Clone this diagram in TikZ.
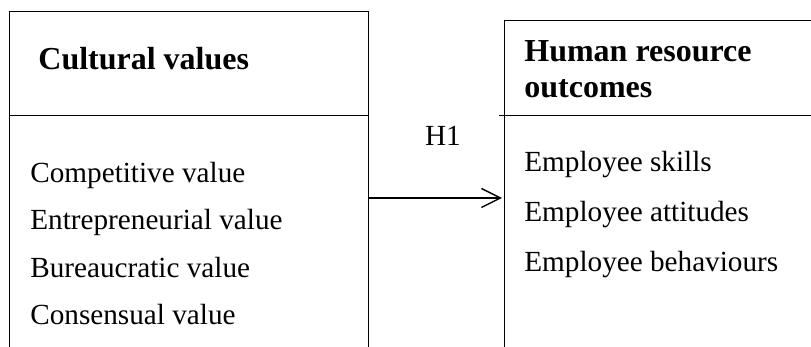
\documentclass[tikz,border=0pt]{standalone}
\usepackage{fontspec}
\setmainfont{Liberation Serif}
\usetikzlibrary{positioning,arrows.meta}

\tikzset{
  frame/.style={line width=0.5pt},
  head/.style={anchor=base west, inner sep=0pt, font=\fontsize{16}{18}\selectfont\bfseries},
  item/.style={anchor=base west, inner sep=0pt, font=\fontsize{14.6}{18}\selectfont},
  link/.style={line width=0.7pt, -{Straight Barb[length=9.5pt,width=9.5pt,line width=0.7pt]}}
}

\begin{document}
\begin{tikzpicture}[x=0.5pt,y=-0.5pt]
  \useasboundingbox (0,0) rectangle (811,347);

  % left box: cultural values
  \draw[frame] (10,347) -- (10,12) -- (368,12) -- (368,347);
  \draw[frame] (10,116) -- (368,116);
  \node[head] (cvhead) at (38,70) {Cultural values};
  \node[item] (cvcomp) at (30,183) {Competitive value};
  \node[item] (cventr) at (30,230) {Entrepreneurial value};
  \node[item] (cvbur)  at (30,278) {Bureaucratic value};
  \node[item] (cvcons) at (30,325) {Consensual value};

  % right box: human resource outcomes
  \draw[frame] (811,21) -- (504,21) -- (504,347);
  \draw[frame] (499,116) -- (811,116);
  \node[head] (hrhead) at (524,62) {Human resource};
  \node[head] (hrhead2) at (524,98) {outcomes};
  \node[item] (hrskill) at (524,172) {Employee skills};
  \node[item] (hratt)   at (524,222) {Employee attitudes};
  \node[item] (hrbeh)   at (524,272) {Employee behaviours};

  % hypothesis
  \coordinate (cvout) at (368,198);
  \coordinate (hrin) at (502,198);
  \draw[link] (cvout) -- (hrin);
  \node[item, anchor=base] (hone) at (443,146) {H1};
\end{tikzpicture}
\end{document}
